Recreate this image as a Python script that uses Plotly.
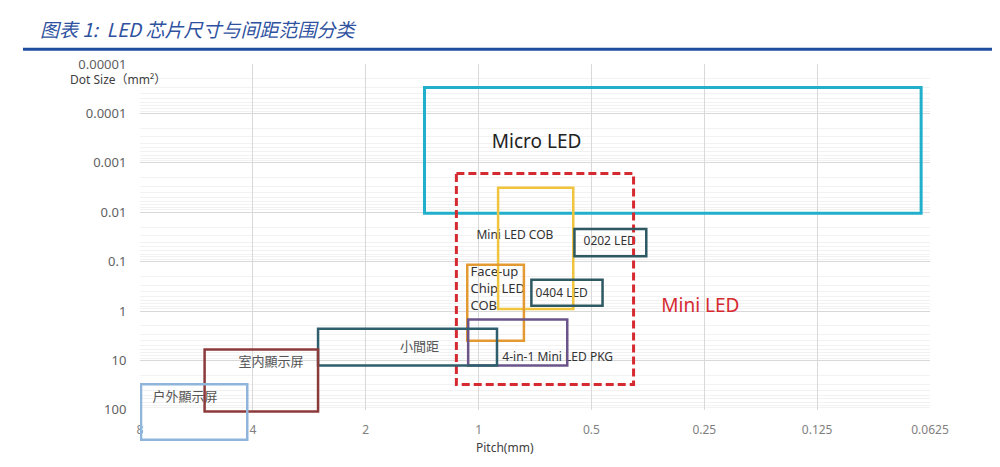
import math
import plotly.graph_objects as go

# ---------------- data ----------------
categories = ["Micro LED", "Mini LED", "Mini LED COB", "0202 LED", "0404 LED",
              "Face-up<br>Chip LED<br>COB", "4-in-1 Mini LED PKG", "小間距", "室内顯示屏", "户外顯示屏"]
# pitch range (mm): larger pitch (left edge) and smaller pitch (right edge)
pitch_max = [1.394, 1.146, 0.887, 0.555, 0.723, 1.072, 1.066, 2.68, 5.38, 7.95]
pitch_min = [0.066, 0.386, 0.559, 0.357, 0.467, 0.757, 0.580, 0.893, 2.68, 4.14]
# dot size range (mm^2)
size_min = [2.99e-5, 1.65e-3, 3.2e-3, 0.0219, 0.231, 0.115, 1.48, 2.29, 6.0, 30.3]
size_max = [0.0105, 30.7, 0.908, 0.0773, 0.776, 3.97, 12.6, 12.6, 108, 401]

x_tick_vals = [8, 4, 2, 1, 0.5, 0.25, 0.125, 0.0625]
x_tick_labels = ["8", "4", "2", "1", "0.5", "0.25", "0.125", "0.0625"]
y_tick_vals = [0.00001, 0.0001, 0.001, 0.01, 0.1, 1, 10, 100]
y_tick_labels = ["0.00001", "0.0001", "0.001", "0.01", "0.1", "1", "10", "100"]

# ---------------- styles / label placement ----------------
box_colors = ["#22AFCC", "#D62A31", "#F0C43C", "#2E5862", "#2E5862",
              "#E39A32", "#6B5489", "#2F5F6C", "#8C3A3A", "#8FB5DB"]
box_widths = [3, 3, 2.5, 2.5, 2.5, 2.5, 2.5, 2.5, 2.5, 2.5]
box_dash = [None, "8px,4px", None, None, None, None, None, None, None, None]
label_x = [0.70, 0.256, 0.80, 0.447, 0.60, 1.051, 0.615, 1.438, 3.58, 6.07]
label_y = [3.95e-4, 0.84, 0.0303, 0.0399, 0.46, 0.366, 8.83, 5.56, 11.1, 57.8]
label_pos = ["middle center"] * 5 + ["middle right"] + ["middle center"] * 4
label_colors = ["#222222", "#D62A31", "#333333", "#333333", "#333333",
                "#333333", "#333333", "#555555", "#555555", "#555555"]
label_sizes = [19, 19, 12, 12, 12, 13, 12, 13, 13, 13]

OFF = 8      # page body margin
SY = 0.987   # observed vertical scale of the photographed page
W, H = 1000 - OFF, 467 - OFF


def pxx(v):
    return v - OFF


def pxy(v):
    return (v - OFF) / SY


m_l, m_r = pxx(140), (W + OFF) - 930
m_t = pxy(63)
bottom_fig = pxy(452)
m_b = H - bottom_fig
plot_bottom = pxy(412.5)
paper_w = W - m_l - m_r
paper_h = H - m_t - m_b
dom0 = (bottom_fig - plot_bottom) / paper_h
y_lo, y_hi = math.log10(y_tick_vals[0]), math.log10(y_tick_vals[-1])
y2_hi = y_hi + (y_hi - y_lo) * dom0 / (1 - dom0)
x_rng = [math.log10(x_tick_vals[0]), math.log10(x_tick_vals[-1])]


def fx(p):
    return (pxx(p) - m_l) / paper_w


def fy(p):
    return (bottom_fig - pxy(p)) / paper_h


font_main = "Noto Sans, Noto Sans CJK SC"

fig = go.Figure()
# invisible trace to hold the main (gridded) subplot
fig.add_trace(go.Scatter(x=x_tick_vals, y=[None] * len(x_tick_vals), xaxis="x", yaxis="y",
                         mode="markers", showlegend=False, hoverinfo="skip"))

# boxes
for i, name in enumerate(categories):
    line = dict(color=box_colors[i], width=box_widths[i])
    if box_dash[i]:
        line["dash"] = box_dash[i]
    fig.add_shape(type="rect", xref="x2", yref="y2",
                  x0=pitch_max[i], x1=pitch_min[i], y0=size_min[i], y1=size_max[i],
                  line=line, fillcolor="rgba(0,0,0,0)", layer="above")

# labels
for i, name in enumerate(categories):
    fig.add_trace(go.Scatter(x=[label_x[i]], y=[label_y[i]], xaxis="x2", yaxis="y2",
                             mode="text", text=[name], textposition=label_pos[i],
                             textfont=dict(family=font_main, size=label_sizes[i], color=label_colors[i]),
                             cliponaxis=False, showlegend=False, hoverinfo="skip"))

grid_major = "#D9D9D9"
fig.update_layout(
    width=W, height=H,
    margin=dict(l=m_l, r=m_r, t=m_t, b=m_b),
    paper_bgcolor="white", plot_bgcolor="rgba(0,0,0,0)",
    showlegend=False,
    xaxis=dict(type="log", range=x_rng, domain=[0, 1], anchor="y",
               tickmode="array", tickvals=x_tick_vals, ticktext=x_tick_labels,
               showgrid=True, gridcolor=grid_major, gridwidth=1, zeroline=False,
               showline=False, ticks="outside", ticklen=9, tickcolor="rgba(0,0,0,0)",
               tickfont=dict(family=font_main, size=12, color="#7F7F7F")),
    yaxis=dict(type="log", range=[y_hi, y_lo], domain=[dom0, 1], anchor="x",
               tickmode="array", tickvals=y_tick_vals, ticktext=y_tick_labels,
               showgrid=True, gridcolor=grid_major, gridwidth=1, zeroline=False,
               showline=False, ticks="outside", ticklen=10, tickcolor="rgba(0,0,0,0)",
               tickfont=dict(family=font_main, size=13, color="#5F5F5F"),
               minor=dict(tickmode="linear", dtick="D1", showgrid=True,
                          gridcolor="#F2F2F2", gridwidth=1, ticks="")),
    xaxis2=dict(type="log", range=x_rng, domain=[0, 1], anchor="y2", visible=False,
                showgrid=False, zeroline=False),
    yaxis2=dict(type="log", range=[y2_hi, y_lo], domain=[0, 1], anchor="x2", visible=False,
                showgrid=False, zeroline=False),
)

# title, rule and axis titles
fig.add_annotation(xref="paper", yref="paper", x=fx(38), y=fy(27),
                   xanchor="left", yanchor="middle",
                   text="<i>图表 1:  LED 芯片尺寸与间距范围分类</i>", showarrow=False,
                   font=dict(family="Noto Sans CJK SC", size=19, color="#2F52A0"))
fig.add_shape(type="line", xref="paper", yref="paper",
              x0=fx(23), x1=fx(W + OFF), y0=fy(48), y1=fy(48),
              line=dict(color="#1F4EA0", width=3))
fig.add_annotation(xref="paper", yref="paper", x=fx(118), y=fy(79),
                   xanchor="center", yanchor="middle",
                   text="Dot Size（mm²）", showarrow=False,
                   font=dict(family=font_main, size=12, color="#404040"))
fig.add_annotation(xref="paper", yref="paper", x=fx(505), y=fy(450),
                   xanchor="center", yanchor="middle",
                   text="Pitch(mm)", showarrow=False,
                   font=dict(family=font_main, size=12, color="#404040"))

fig.write_html("out.html")
